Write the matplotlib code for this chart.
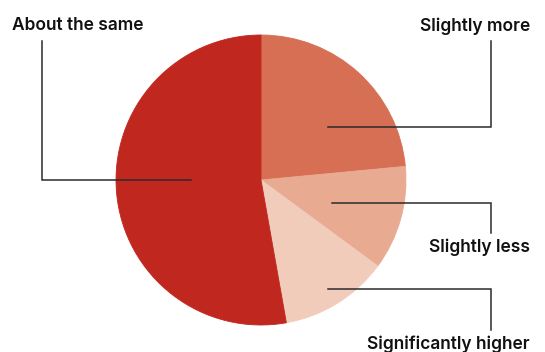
import matplotlib.pyplot as plt

# Share of responses per answer, drawn clockwise from 12 o'clock
labels = ['Slightly more', 'Slightly less', 'Significantly higher', 'About the same']
shares = [23.5, 11.6, 12.1, 52.8]
colors = ['#D66F53', '#E8AB91', '#F1CCBA', '#C0271E']

W, H = 545, 352
fig = plt.figure(figsize=(W / 100, H / 100), dpi=100)
ax = fig.add_axes([0, 0, 1, 1])

cx, cy, r = 261, H - 180, 145
wedges, _ = ax.pie(shares, colors=colors, startangle=90, counterclock=False,
                   center=(cx, cy), radius=r,
                   wedgeprops=dict(linewidth=0.6, antialiased=True))
for w, c in zip(wedges, colors):
    w.set_edgecolor(c)

ax.set_xlim(0, W)
ax.set_ylim(0, H)
ax.set_aspect('equal')
ax.axis('off')

line_kw = dict(color='#2b2b2b', lw=1.1, solid_joinstyle='miter')
text_kw = dict(fontsize=12.5, fontfamily='Inter', fontweight='semibold', color='#111111')

def y(v):
    return H - v

# leader lines: (path of points), label position, alignment
callouts = [
    ('About the same', [(191, 180), (42, 180), (42, 41)], (12, 26), 'left'),
    ('Slightly more', [(328, 127), (491, 127), (491, 41)], (530, 26), 'right'),
    ('Slightly less', [(332, 203), (491, 203), (491, 233)], (530, 247), 'right'),
    ('Significantly higher', [(328, 289), (491, 289), (491, 330)], (530, 344), 'right'),
]
for name, pts, (tx, ty), ha in callouts:
    xs = [p[0] for p in pts]
    ys = [y(p[1]) for p in pts]
    ax.plot(xs, ys, **line_kw)
    ax.text(tx, y(ty), name, ha=ha, va='center', **text_kw)

fig.savefig('out.png', dpi=100)
